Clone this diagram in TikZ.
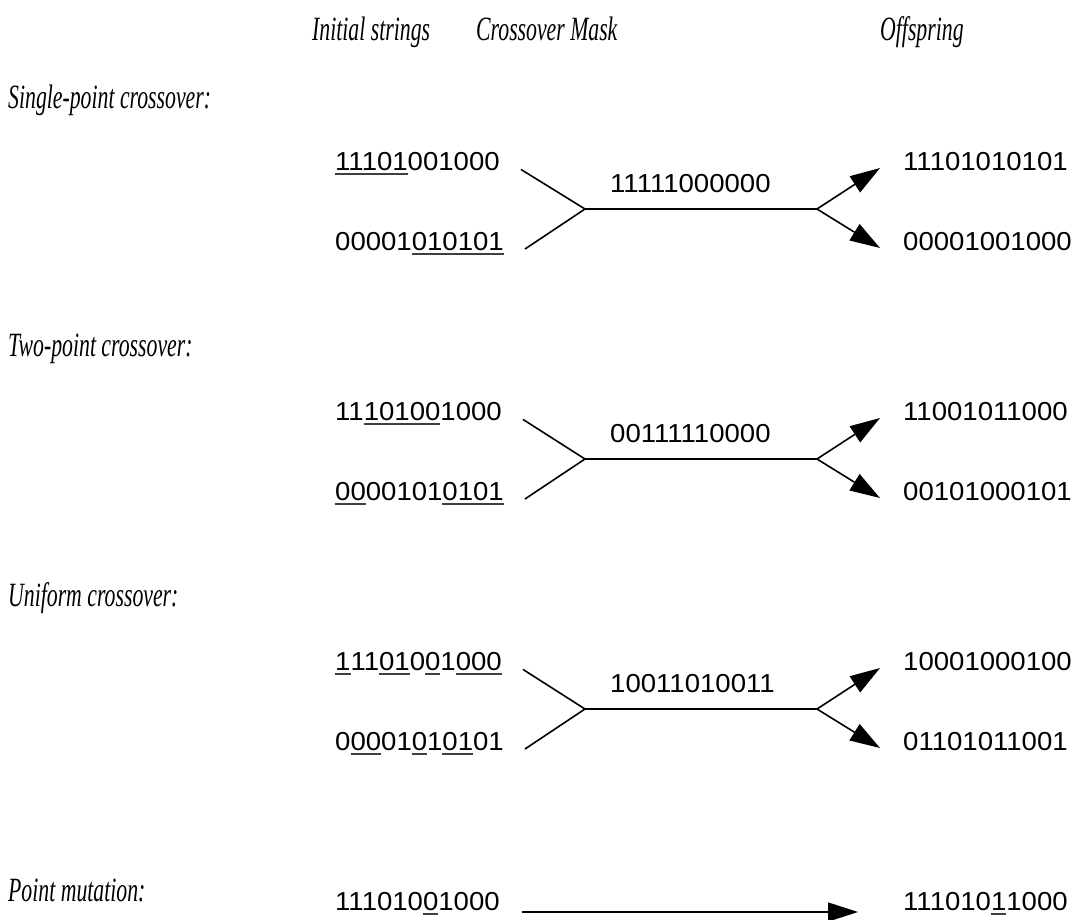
\documentclass[tikz,border=0pt]{standalone}
\usepackage{fontspec}
\setmainfont{Liberation Sans}
\newfontfamily\bitfont[FakeStretch=1.06]{Liberation Sans}
\newfontfamily\labfont[FakeStretch=0.64]{Liberation Serif}
\usetikzlibrary{arrows.meta}
\definecolor{ulgray}{rgb}{0.25,0.25,0.25}
\newsavebox\ulbox
\newcommand\ulx[1]{\sbox\ulbox{#1}\rlap{\textcolor{ulgray}{\rule[-5pt]{\wd\ulbox}{2.2pt}}}\usebox\ulbox}
\tikzset{
  bits/.style={font=\bitfont\fontsize{26}{30}\selectfont, anchor=base west, inner sep=0pt},
  lab/.style={font=\labfont\itshape\fontsize{34}{38}\selectfont, anchor=base west, inner sep=0pt},
  conn/.style={line width=1.6pt},
  arr/.style={line width=1.6pt, -{Triangle[length=30pt,width=19pt]}}
}
\begin{document}
\begin{tikzpicture}[x=1pt,y=-1pt]
\useasboundingbox (0,0) rectangle (1077,919);
% headers
\node[lab] (h1) at (312,40) {Initial strings};
\node[lab] (h2) at (476,40) {Crossover Mask};
\node[lab] (h3) at (880,40) {Offspring};
% row labels
\node[lab] (l1) at (8,108) {Single-point crossover:};
\node[lab] (l2) at (8,356) {Two-point crossover:};
\node[lab] (l3) at (8,606) {Uniform crossover:};
\node[lab] (l4) at (8,901) {Point mutation:};
% block 1
\node[bits] (a1) at (335,170) {\ulx{11101}001000};
\node[bits] (b1) at (335,250) {00001\ulx{010101}};
\node[bits] (m1) at (610,192) {11111000000};
\node[bits] (o1) at (903,170) {11101010101};
\node[bits] (p1) at (903,250) {00001001000};
\coordinate (j1) at (585,209);
\coordinate (s1) at (817,209);
% block 2
\node[bits] (a2) at (335,420) {11\ulx{10100}1000};
\node[bits] (b2) at (335,500) {\ulx{00}00101\ulx{0101}};
\node[bits] (m2) at (610,442) {00111110000};
\node[bits] (o2) at (903,420) {11001011000};
\node[bits] (p2) at (903,500) {00101000101};
\coordinate (j2) at (585,459);
\coordinate (s2) at (817,459);
% block 3
\node[bits] (a3) at (335,670) {\ulx{1}11\ulx{01}0\ulx{0}1\ulx{0}\ulx{00}};
\node[bits] (b3) at (335,750) {0\ulx{00}01\ulx{0}1\ulx{01}01};
\node[bits] (m3) at (610,692) {10011010011};
\node[bits] (o3) at (903,670) {10001000100};
\node[bits] (p3) at (903,750) {01101011001};
\coordinate (j3) at (585,709);
\coordinate (s3) at (817,709);
% block 4
\node[bits] (a4) at (335,910) {111010\ulx{0}1000};
\node[bits] (o4) at (903,910) {111010\ulx{1}1000};
% connectors
\foreach \i in {1,2,3}{
  \draw[conn] ([xshift=21pt,yshift=-6pt]a\i.east) -- (j\i);
  \draw[conn] ([xshift=21pt,yshift=1pt]b\i.base east) -- (j\i);
  \draw[conn] (j\i) -- (s\i);
  \draw[arr] (s\i) -- ([xshift=-23pt,yshift=2pt]o\i.base west);
  \draw[arr] (s\i) -- ([xshift=-23pt,yshift=2pt]p\i.base west);
}
\draw[arr] ([xshift=22pt,yshift=-2pt]a4.base east) -- ([xshift=-45pt,yshift=-2pt]o4.base west);
\end{tikzpicture}
\end{document}
